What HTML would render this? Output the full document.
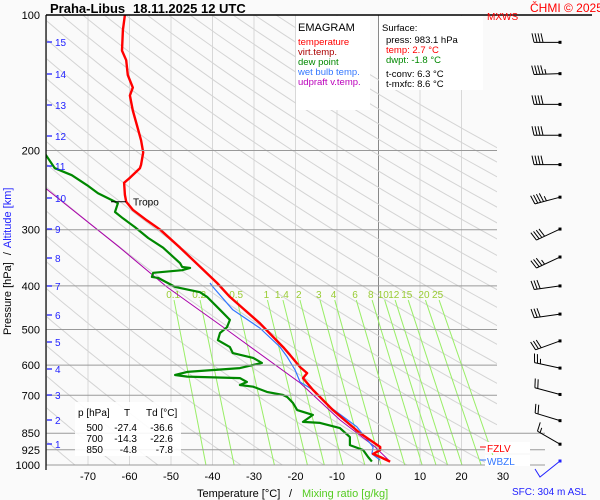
<!DOCTYPE html>
<html><head><meta charset="utf-8"><style>
html,body{margin:0;padding:0;background:#fff;}
svg{display:block;font-family:"Liberation Sans",sans-serif;}
</style></head><body>
<svg id="c" width="600" height="500" viewBox="0 0 600 500">
<defs><clipPath id="plot"><rect x="46" y="15" width="451" height="450"/></clipPath></defs>
<rect x="0" y="0" width="600" height="500" fill="#fafafa"/>
<g id="grid" clip-path="url(#plot)"></g>
<g id="mix"></g>
<g id="series" clip-path="url(#plot)"></g>
<g id="axes"></g>
<g id="winds"></g>
<text x="50" y="13" font-size="13" font-weight="bold">Praha-Libus <tspan x="133">18.11.2025 12 UTC</tspan></text>
<text x="530" y="12" font-size="12" fill="#f00">ČHMI © 2025</text>
<text x="487" y="20" font-size="10" fill="#f00">MXWS</text>
<g>
<rect x="296" y="16" width="74" height="94" fill="#fff"/>
<text x="298" y="31" font-size="11">EMAGRAM</text>
<text x="298" y="45" font-size="9.5" fill="#f00">temperature</text>
<text x="298" y="55" font-size="9.5" fill="#a00">virt.temp.</text>
<text x="298" y="65" font-size="9.5" fill="#080">dew point</text>
<text x="298" y="75" font-size="9.5" fill="#37f">wet bulb temp.</text>
<text x="298" y="85" font-size="9.5" fill="#b0b">udpraft v.temp.</text>
</g>
<g>
<rect x="379" y="16" width="104" height="74" fill="#fff"/>
<text x="382" y="31" font-size="9.5">Surface:</text>
<text x="386" y="43" font-size="9.5">press: 983.1 hPa</text>
<text x="386" y="53" font-size="9.5" fill="#f00">temp: 2.7 °C</text>
<text x="386" y="63" font-size="9.5" fill="#080">dwpt: -1.8 °C</text>
<text x="386" y="77" font-size="9.5">t-conv: 6.3 °C</text>
<text x="386" y="87" font-size="9.5">t-mxfc: 8.6 °C</text>
</g>
<g font-size="10">
<rect x="75" y="402" width="106" height="54" fill="#fff" opacity="0.9"/>
<text x="78" y="416">p [hPa]</text><text x="124" y="416">T</text><text x="146" y="416">Td [°C]</text>
<text x="103" y="431" text-anchor="end">500</text><text x="137" y="431" text-anchor="end">-27.4</text><text x="173" y="431" text-anchor="end">-36.6</text>
<text x="103" y="442" text-anchor="end">700</text><text x="137" y="442" text-anchor="end">-14.3</text><text x="173" y="442" text-anchor="end">-22.6</text>
<text x="103" y="453" text-anchor="end">850</text><text x="137" y="453" text-anchor="end">-4.8</text><text x="173" y="453" text-anchor="end">-7.8</text>
</g>
<g><rect x="485" y="442" width="45" height="11" fill="#fff"/><line x1="480" y1="447" x2="486" y2="447" stroke="#f00"/><text x="487" y="452" font-size="10" fill="#f00">FZLV</text></g>
<g><rect x="485" y="455" width="45" height="11" fill="#fff"/><line x1="480" y1="460" x2="486" y2="460" stroke="#37f"/><text x="487" y="465" font-size="10" fill="#37f">WBZL</text></g>
<text x="197" y="497" font-size="11">Temperature [°C] <tspan x="289">/</tspan><tspan x="302" fill="#5c2">Mixing ratio [g/kg]</tspan></text>
<text x="512" y="495" font-size="10" fill="#22f">SFC: 304 m ASL</text>
<text transform="translate(11,335) rotate(-90)" font-size="11">Pressure [hPa] <tspan dx="4">/</tspan><tspan dx="4" fill="#22f">Altitude [km]</tspan></text>
</svg>
<script>
const tempP=[100,108,120,126,136,145,151,163,176,190,202,215,219,230,236,251,260,271,286,300,329,394,423,484,547,570,606,625,641,681,755,849,912,926,945,960,983];
const tempT=[-61.1,-61.6,-61.8,-60.8,-60.4,-59.2,-59.9,-59.2,-58.2,-57.2,-56.7,-57.2,-57.5,-59.9,-61.3,-61.1,-60.8,-59.2,-55.8,-52.6,-47.8,-38.9,-35.8,-28.6,-23.0,-21.3,-18.9,-17.2,-18.2,-15.8,-11.0,-4.5,0.4,0.4,-1.3,0.4,2.8];
const dewP=[203,219,227,239,249,258,262,274,283,296,313,329,356,363,365,369,374,382,384,402,413,423,452,476,494,509,528,547,564,578,593,609,621,631,636,641,654,664,670,688,699,706,728,755,774,802,806,828,867,903,926,960,983];
const dewT=[-80.4,-78.0,-73.9,-70.2,-67.6,-64.2,-62.8,-63.5,-61.6,-58.7,-55.5,-51.9,-47.8,-47.3,-45.4,-47.3,-54.3,-54.6,-53.1,-49.0,-43.0,-41.3,-38.2,-35.8,-36.5,-38.2,-38.7,-35.8,-35.1,-30.2,-28.1,-33.4,-46.1,-49.0,-46.1,-33.4,-31.7,-33.4,-30.2,-26.9,-23.0,-22.0,-20.6,-19.6,-15.8,-18.2,-14.1,-9.3,-6.9,-6.9,-3.7,-2.5,-1.6];
const wbP=[394,402,452,496,547,575,615,654,681,743,823,912,945,975];
const wbT=[-40.6,-39.9,-35.1,-28.6,-23.7,-22.0,-20.1,-18.9,-15.8,-11.7,-5.2,-1.3,-1.6,0.4];
const upP=[242,329,402,501,657,794,912,983];
const upT=[-80.4,-62.3,-51.0,-36.5,-18.9,-9.3,-0.8,2.8];
const pressureTicks=[100,200,300,400,500,600,700,850,925,1000];
const tempTicks=[-70,-60,-50,-40,-30,-20,-10,0,10,20,30];
const kmTicks=[1,2,3,4,5,6,7,8,9,10,11,12,13,14,15];
const kmY=[444,420,395,369,342,315,286,258,229,198,166,136,105,74,42];
const mixRatios=[0.1,0.2,0.5,1,1.4,2,3,4,6,8,10,12,15,20,25];
const windP=[115,135,158,185,215,254,299,345,400,462,530,609,697,797,899];
const windDir=[270,268,270,270,270,255,245,245,262,262,250,282,285,287,300];
const windKt=[40,45,40,40,40,45,40,35,30,30,30,25,20,20,15];

const NS='http://www.w3.org/2000/svg';
const X=t=>378.5+4.15*t;
const Y=p=>15+450*Math.log10(p/100);
function mk(tag,attrs,parent){const e=document.createElementNS(NS,tag);for(const k in attrs)e.setAttribute(k,attrs[k]);parent.appendChild(e);return e;}
const grid=document.getElementById('grid'),axes=document.getElementById('axes'),series=document.getElementById('series'),mix=document.getElementById('mix'),winds=document.getElementById('winds');
for(let t=-80;t<=30;t+=10){const l=mk('line',{x1:X(t),x2:X(t),y1:15,y2:465,stroke:t===0?'#888':'#d8d8d8','stroke-width':1},grid);

}
for(let th=180;th<=480;th+=10){let d='';for(let p=100;p<=1000;p+=10){const T=th*Math.pow(p/1000,0.286)-273.15;d+=(d?'L':'M')+X(T).toFixed(1)+','+Y(p).toFixed(1);}
const a=mk('path',{d:d,fill:'none',stroke:'#d4d4d4','stroke-width':1},grid);

}
pressureTicks.forEach(p=>{const right=p>=850?545:497;const l=mk('line',{x1:46,x2:p===100?592:right,y1:Y(p),y2:Y(p),stroke:p===100?'#000':'#999','stroke-width':p===100?1.5:1},axes);


const t=mk('text',{x:40,y:Y(p)+4,'font-size':11,'text-anchor':'end'},axes);t.textContent=p;

});
const ax=mk('line',{x1:46,x2:46,y1:15,y2:470,stroke:'#000','stroke-width':1.2},axes);


tempTicks.forEach(t=>{const e=mk('text',{x:X(t),y:480,'font-size':11,'text-anchor':'middle'},axes);e.textContent=t;

});
kmTicks.forEach((k,i)=>{const y=kmY[i];const l=mk('line',{x1:47,x2:52,y1:y,y2:y,stroke:'#22f','stroke-width':1.3},axes);


const t=mk('text',{x:55,y:y+4,'font-size':10,fill:'#22f'},axes);t.textContent=k;

});
function tdFor(w,p){const e=w*p/(622+w);const l=Math.log(e/6.112);return 243.5*l/(17.67-l);}
mixRatios.forEach(w=>{const p0=430;const l=mk('line',{x1:X(tdFor(w,p0)),y1:Y(p0),x2:X(tdFor(w,1000)),y2:Y(1000),stroke:'#9e6','stroke-width':1},mix);


const t=mk('text',{x:X(tdFor(w,420)),y:298,'font-size':10,fill:'#9c3','text-anchor':'middle'},mix);t.textContent=w;

});
function path(P,T,color,w,name){let d='';P.forEach((p,i)=>{d+=(i?'L':'M')+X(T[i]).toFixed(1)+','+Y(p).toFixed(1);});
const e=mk('path',{d:d,fill:'none',stroke:color,'stroke-width':w,'stroke-linejoin':'round'},series);

}
path(upP,upT,'#a0a',1,'updraft-line');
path(dewP,dewT,'#080',2.2,'dewpoint-line');
path(wbP,wbT,'#37f',1.2,'wetbulb-line');
path(tempP,tempT,'#f00',2.4,'temperature-line');
const tr=mk('line',{x1:111,x2:126,y1:Y(260),y2:Y(260),stroke:'#000'},axes);


const tt=mk('text',{x:133,y:Y(260)+4,'font-size':10},axes);tt.textContent='Tropo';


windP.forEach((p,i)=>{const g=mk('g',{},winds);


const y=Y(p);const x0=560;const ang=(windDir[i]-270)*Math.PI/180;
const dx=-Math.cos(ang),dy=-Math.sin(ang);const L=26;
const x1=x0+dx*L,y1=y+dy*L;
mk('line',{x1:x0,y1:y,x2:x1,y2:y1,stroke:'#000','stroke-width':1},g);
mk('rect',{x:x0-1.5,y:y-1.5,width:3,height:3,fill:'#000'},g);
let kt=windKt[i];let k=0;const px=-dy,py=dx;
while(kt>=10){const bx=x1-dx*k*3,by=y1-dy*k*3;mk('line',{x1:bx,y1:by,x2:bx+px*9+dx*2,y2:by+py*9+dy*2,stroke:'#000'},g);kt-=10;k++;}
if(kt>=5){const bx=x1-dx*k*3,by=y1-dy*k*3;mk('line',{x1:bx,y1:by,x2:bx+px*5+dx*1,y2:by+py*5+dy*1,stroke:'#000'},g);}
});
const sfc=mk('polyline',{points:'560,461 540,477 535,469',fill:'none',stroke:'#22f','stroke-width':1},winds);


const sd=mk('rect',{x:558.5,y:459.5,width:3,height:3,fill:'#22f'},winds);


</script>
</body></html>
